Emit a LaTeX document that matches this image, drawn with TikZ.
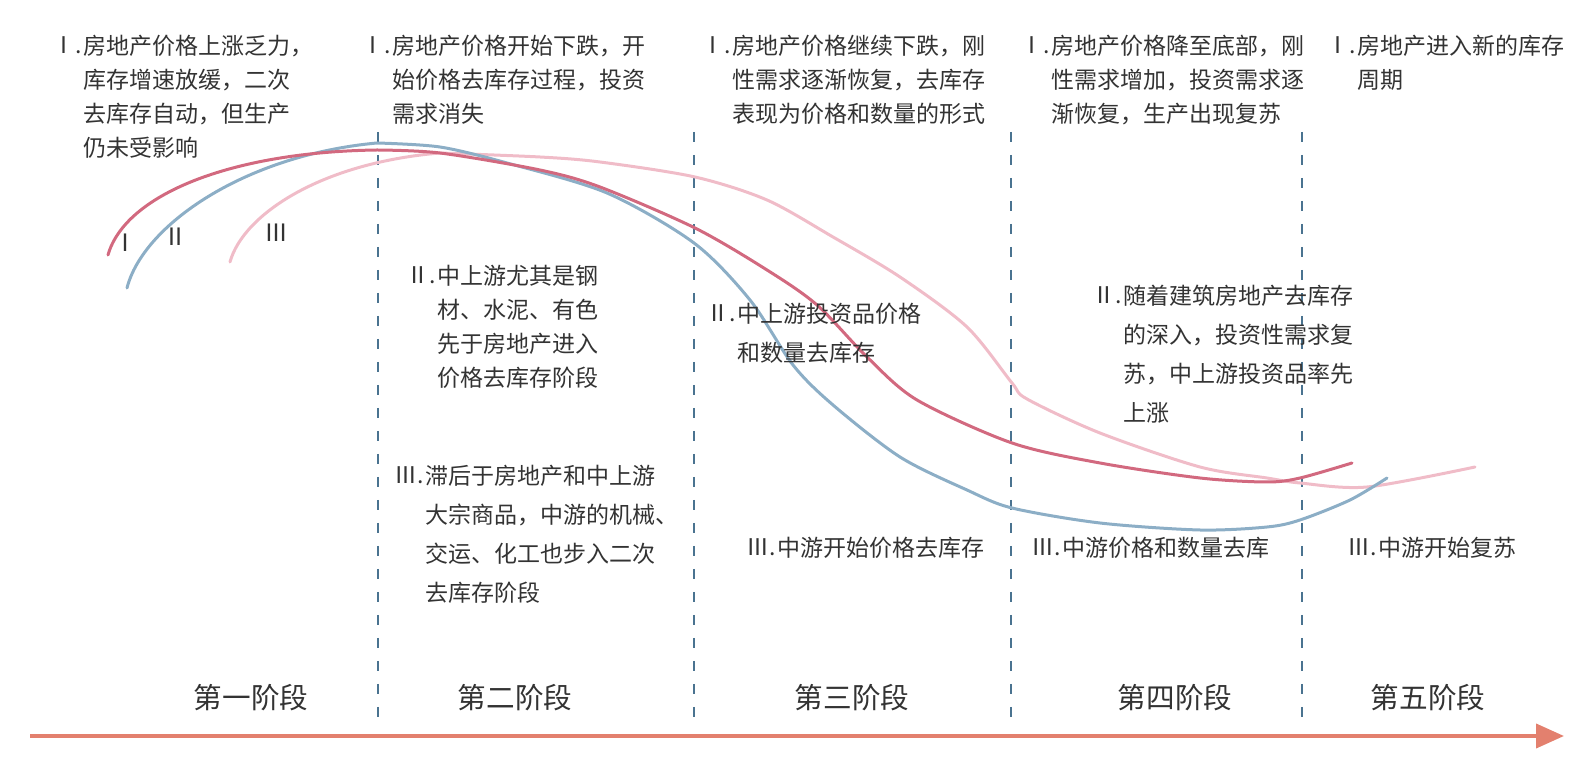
\documentclass[tikz,border=0pt]{standalone}
\usepackage{fontspec}
\newfontfamily\cjk{Noto Sans CJK SC}
\usetikzlibrary{arrows.meta}
\definecolor{txt}{HTML}{333333}
\definecolor{redc}{HTML}{D2697F}
\definecolor{bluec}{HTML}{8CAEC6}
\definecolor{pinkc}{HTML}{F0BCC8}
\definecolor{dashc}{HTML}{4A7390}
\definecolor{arrc}{HTML}{E3806E}
\begin{document}
\begin{tikzpicture}[x=0.5pt,y=-0.5pt,
  blk/.style={font=\cjk\fontsize{11.5}{17}\selectfont, text=txt, inner sep=0pt, align=left, anchor=north west},
  blkw/.style={blk, font=\cjk\fontsize{11.5}{19.4}\selectfont},
  numlbl/.style={font=\cjk\fontsize{11.5}{17}\selectfont, text=txt, inner sep=0pt, anchor=east},
  curvelbl/.style={font=\cjk\fontsize{12}{14}\selectfont, text=txt, inner sep=0pt},
  stagelbl/.style={font=\cjk\fontsize{14.3}{17}\selectfont, text=txt, inner sep=0pt},
  sep/.style={draw=dashc, line width=0.75pt, dash pattern=on 5pt off 6.5pt},
  curve/.style={line width=1.5pt, line cap=round, line join=round},
  timeline/.style={draw=arrc, line width=2pt, -{Triangle[length=14pt,width=12pt]}}
]
\useasboundingbox (0,0) rectangle (1586,769);

% dashed separators
\foreach \xx/\nm in {378/s1, 694/s2, 1011/s3, 1302/s4}{
  \coordinate (\nm t) at (\xx,132);
  \coordinate (\nm b) at (\xx,722);
  \draw[sep] (\nm t) -- (\nm b);
}

% curves
\draw[curve, draw=pinkc] (230,262) .. controls (243,215) and (320,163) .. (440,153)
  -- plot[smooth, tension=0.5] coordinates {(440,153) (540,157) (600,162) (695,177) (767,200) (833,237) (900,277) (967,327) (1012,383) (1027,399) (1100,433) (1200,467) (1267,478) (1300,483) (1367,487) (1475,467)};
\draw[curve, draw=bluec] (127,288) .. controls (143,225) and (245,155) .. (377,143)
  -- plot[smooth, tension=0.5] coordinates {(377,143) (440,147) (507,163) (607,193) (694,243) (750,300) (793,365) (833,405) (900,457) (967,490) (1012,508) (1100,523) (1200,530) (1267,527) (1300,520) (1350,500) (1387,478)};
\draw[curve, draw=redc] (108,255) .. controls (125,195) and (230,152) .. (377,150)
  -- plot[smooth, tension=0.5] coordinates {(377,150) (440,153) (540,170) (600,187) (695,228) (767,270) (817,305) (867,357) (917,400) (1012,443) (1100,463) (1200,478) (1267,482) (1300,478) (1352,463)};

\node[curvelbl] (c1) at (125,243) {Ⅰ};
\node[curvelbl] (c2) at (175,237) {Ⅱ};
\node[curvelbl] (c3) at (276,233) {Ⅲ};

% top headings
\node[numlbl] (h1n) at (82,45) {Ⅰ.};
\node[blk] (h1) at (83,35) {房地产价格上涨乏力，\\库存增速放缓，二次\\去库存自动，但生产\\仍未受影响};
\node[numlbl] (h2n) at (391,45) {Ⅰ.};
\node[blk] (h2) at (392,35) {房地产价格开始下跌，开\\始价格去库存过程，投资\\需求消失};
\node[numlbl] (h3n) at (731,45) {Ⅰ.};
\node[blk] (h3) at (732,35) {房地产价格继续下跌，刚\\性需求逐渐恢复，去库存\\表现为价格和数量的形式};
\node[numlbl] (h4n) at (1050,45) {Ⅰ.};
\node[blk] (h4) at (1051,35) {房地产价格降至底部，刚\\性需求增加，投资需求逐\\渐恢复，生产出现复苏};
\node[numlbl] (h5n) at (1356,45) {Ⅰ.};
\node[blk] (h5) at (1357,35) {房地产进入新的库存\\周期};

% middle texts
\node[numlbl] (m2an) at (436,275) {Ⅱ.};
\node[blk] (m2a) at (437,265) {中上游尤其是钢\\材、水泥、有色\\先于房地产进入\\价格去库存阶段};
\node[numlbl] (m2bn) at (424,475) {Ⅲ.};
\node[blkw] (m2b) at (425,465) {滞后于房地产和中上游\\大宗商品，中游的机械、\\交运、化工也步入二次\\去库存阶段};
\node[numlbl] (m3an) at (736,313) {Ⅱ.};
\node[blkw] (m3a) at (737,303) {中上游投资品价格\\和数量去库存};
\node[numlbl] (m3bn) at (776,547) {Ⅲ.};
\node[blk] (m3b) at (777,537) {中游开始价格去库存};
\node[numlbl] (m4an) at (1122,295) {Ⅱ.};
\node[blkw] (m4a) at (1123,285) {随着建筑房地产去库存\\的深入，投资性需求复\\苏，中上游投资品率先\\上涨};
\node[numlbl] (m4bn) at (1061,547) {Ⅲ.};
\node[blk] (m4b) at (1062,537) {中游价格和数量去库};
\node[numlbl] (m5bn) at (1377,547) {Ⅲ.};
\node[blk] (m5b) at (1378,537) {中游开始复苏};

% stage labels
\node[stagelbl] (st1) at (251,698) {第一阶段};
\node[stagelbl] (st2) at (515,698) {第二阶段};
\node[stagelbl] (st3) at (852,698) {第三阶段};
\node[stagelbl] (st4) at (1175,698) {第四阶段};
\node[stagelbl] (st5) at (1428,698) {第五阶段};

% timeline
\coordinate (ta) at (30,736);
\coordinate (tb) at (1564,736);
\draw[timeline] (ta) -- (tb);
\end{tikzpicture}
\end{document}
